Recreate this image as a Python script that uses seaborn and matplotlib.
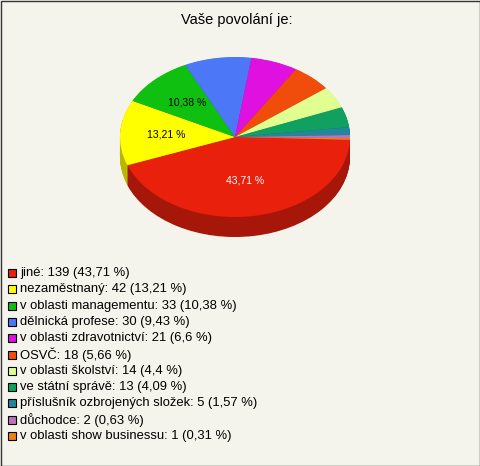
import matplotlib
matplotlib.use("Agg")
import matplotlib.pyplot as plt
import seaborn as sns
import numpy as np
from matplotlib.patches import Rectangle

sns.set_theme(style="white")
plt.rcParams['font.family'] = ['Liberation Sans', 'DejaVu Sans']

categories = ["jiné", "nezaměstnaný", "v oblasti managementu", "dělnická profese",
              "v oblasti zdravotnictví", "OSVČ", "v oblasti školství", "ve státní správě",
              "příslušník ozbrojených složek", "důchodce", "v oblasti show businessu"]
values = [139, 42, 33, 30, 21, 18, 14, 13, 5, 2, 1]
percent_labels = ["43,71", "13,21", "10,38", "9,43", "6,6", "5,66", "4,4", "4,09", "1,57", "0,63", "0,31"]
colors = ["#e8200c", "#ffff00", "#10c010", "#4c78f8", "#e010e0", "#f04c0c",
          "#e0ff90", "#10a060", "#208898", "#c070c0", "#f08010"]

W, H = 480, 466
fig = plt.figure(figsize=(W/100, H/100), dpi=100)
fig.patch.set_facecolor("#f4f3ec")
bg = fig.add_axes([0, 0, 1, 1])
bg.set_xlim(0, W); bg.set_ylim(H, 0); bg.axis("off")
bg.add_patch(Rectangle((0.5, 0.5), W-1, H-1, fill=False, ec="#333333", lw=1))
bg.text(237, 20, "Vaše povolání je:", ha="center", va="center", fontsize=10.5, color="black")

for i, (c, v, p) in enumerate(zip(categories, values, percent_labels)):
    y = 273 + i * 16.3
    bg.add_patch(Rectangle((8, y-4), 8, 8, fc=colors[i], ec="black", lw=0.8))
    bg.text(20, y, f"{c}: {v} ({p} %)", va="center", ha="left", fontsize=9.4, color="black")

depth = 0.25
ax = fig.add_axes([120/W, (466-57-160-20)/H, 230/W, 180/H])
ax.set_xlim(-1, 1); ax.set_ylim(-1 - depth, 1)
ax.set_aspect("auto"); ax.axis("off")

dark = [tuple(np.array(matplotlib.colors.to_rgb(c)) * 0.72) for c in colors]
for d in np.linspace(depth, 0.005, 30):
    ax.pie(values, colors=dark, startangle=-2, counterclock=False,
           center=(0, -d), radius=1, wedgeprops=dict(lw=0))
wedges, _ = ax.pie(values, colors=colors, startangle=-2, counterclock=False,
                   center=(0, 0), radius=1, wedgeprops=dict(lw=0))
ax.set_xlim(-1, 1); ax.set_ylim(-1 - depth, 1)
ax.set_aspect("auto")

for i, w in enumerate(wedges[:3]):
    ang = np.deg2rad((w.theta1 + w.theta2) / 2)
    r = 0.55 if i == 0 else 0.6
    ax.text(r*np.cos(ang), r*np.sin(ang), percent_labels[i] + " %", ha="center", va="center",
            fontsize=7.5, color="white" if i == 0 else "black")

fig.savefig("out.png", dpi=100, facecolor=fig.get_facecolor())
